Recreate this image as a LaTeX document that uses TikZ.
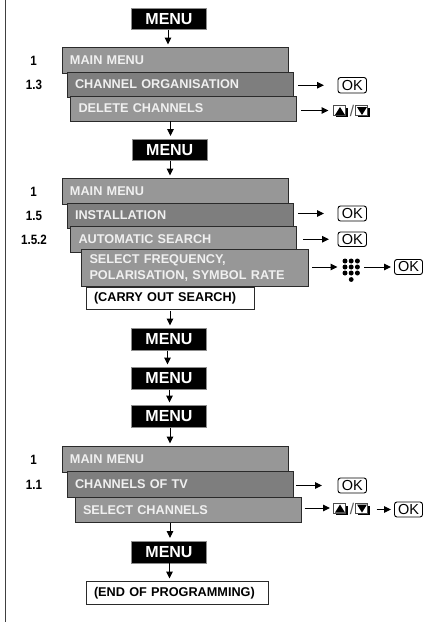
\documentclass[tikz,border=0pt]{standalone}
\usepackage{fontspec}
\setmainfont{Liberation Sans}
\newfontfamily\narrowfont[FakeStretch=0.86]{Liberation Sans}
\usetikzlibrary{arrows.meta,calc}
\definecolor{mgray}{HTML}{979797}
\definecolor{dgray}{HTML}{7E7E7E}
\definecolor{btxt}{HTML}{F0F0F0}
\definecolor{edge}{HTML}{2A2A2A}
\tikzset{
  every node/.style={inner sep=0pt,outer sep=0pt},
  lightbox/.style={draw=edge,line width=0.9pt,fill=mgray,text=btxt,font=\fontsize{12.7}{16}\selectfont\bfseries,align=left},
  darkbox/.style={lightbox,fill=dgray},
  whitebox/.style={lightbox,fill=white,text=black},
  menubox/.style={draw=black!45,line width=0.8pt,fill=black,text=white,font=\fontsize{16}{18}\selectfont\bfseries,align=center},
  okbox/.style={draw=black,line width=0.9pt,rounded corners=2.5pt,fill=white,font=\fontsize{14.5}{16}\selectfont,align=center},
  numlabel/.style={font=\narrowfont\fontsize{13.5}{14}\selectfont\bfseries,text=black},
  varrow/.style={line width=1pt,-{Triangle[length=7pt,width=6.5pt]}},
  harrow/.style={line width=1pt,-{Triangle[length=7pt,width=6.5pt]}},
  slash/.style={font=\fontsize{15.5}{16}\selectfont,text=black!65},
}
% name, x1, y1, x2, y2, style, text
\newcommand{\tbox}[7]{%
  \pgfmathsetmacro{\bw}{#4-#2}\pgfmathsetmacro{\bh}{#5-#3}\pgfmathsetmacro{\tw}{#4-#2-16}%
  \node[#6,minimum width=\bw pt,minimum height=\bh pt,text width=\tw pt,inner xsep=8pt] (#1) at ({(#2+#4)/2},{(#3+#5)/2}) {#7};}
\newcommand{\cbox}[7]{%
  \pgfmathsetmacro{\bw}{#4-#2}\pgfmathsetmacro{\bh}{#5-#3}%
  \node[#6,minimum width=\bw pt,minimum height=\bh pt] (#1) at ({(#2+#4)/2},{(#3+#5)/2}) {#7};}
% key icon: name, x1, y1, direction (1 up, -1 down)
\newcommand{\keyicon}[4]{%
  \fill[black] (#2+2.5,#3+2.5) rectangle (#2+14,#3+11.5);
  \node[draw=black!70,line width=0.5pt,fill=white,minimum width=12pt,minimum height=10pt] (#1) at (#2+6,#3+5) {};
  \fill[black] (#2+6.5,{#3+5.5-4*#4}) -- (#2+1.5,{#3+5.5+4*#4}) -- (#2+11.5,{#3+5.5+4*#4}) -- cycle;}
\begin{document}
\begin{tikzpicture}[x=1pt,y=-1pt]
\useasboundingbox (0,0) rectangle (428,625);
\coordinate (railtop) at (5.5,0);
\coordinate (railend) at (5.5,622);
\draw[line width=1pt,black!75] (railtop) -- (railend);
% columns for the vertical arrows
\coordinate (xa) at (168,0);
\coordinate (xb) at (170.5,0);
\coordinate (xc) at (170,0);
\coordinate (xd) at (167.5,0);
\coordinate (xe) at (169.5,0);

% block 1
\cbox{m1}{131.5}{8}{206.5}{29.5}{menubox}{MENU}
\tbox{a1}{62}{47.5}{288}{73}{lightbox}{MAIN MENU}
\tbox{a2}{67}{72}{293}{97}{darkbox}{CHANNEL ORGANISATION}
\tbox{a3}{70.5}{96}{296.5}{121}{lightbox}{DELETE CHANNELS}
\node[numlabel] (l1) at (33.5,60.5) {1};
\node[numlabel] (l2) at (34,84.5) {1.3};
\cbox{oka}{338}{77.5}{366.5}{93}{okbox}{OK}
\keyicon{ua}{333.5}{105.5}{1}
\node[slash] (sa) at (352,111) {/};
\keyicon{da}{355.5}{105.5}{-1}

% block 2
\cbox{m2}{132.5}{139}{207}{160.5}{menubox}{MENU}
\tbox{b1}{62}{178.5}{288}{204}{lightbox}{MAIN MENU}
\tbox{b2}{67}{203}{293}{228}{darkbox}{INSTALLATION}
\tbox{b3}{70.5}{226.5}{296.5}{252}{lightbox}{AUTOMATIC SEARCH}
\tbox{b4}{81.5}{249}{308}{286.5}{lightbox}{SELECT FREQUENCY,\\POLARISATION, SYMBOL RATE}
\tbox{b5}{86}{287}{254.5}{309}{whitebox}{(CARRY OUT SEARCH)}
\node[numlabel] (l3) at (33.5,191.5) {1};
\node[numlabel] (l4) at (34,216) {1.5};
\node[numlabel] (l5) at (34,240) {1.5.2};
\cbox{okb}{338}{206}{366.5}{221}{okbox}{OK}
\cbox{okc}{338}{232}{366.5}{246.5}{okbox}{OK}
\cbox{okd}{394.5}{259.5}{422.5}{274.5}{okbox}{OK}
\coordinate (kp) at (351.2,267);
\foreach \yy in {261,267,273}
  \foreach \xx in {345,351.2,357.4}
    \fill[black] (\xx,\yy) circle (2.5pt);
\fill[black] (351.2,279.5) circle (2.4pt);

% menus
\cbox{m3}{131.5}{328.5}{206.5}{350.5}{menubox}{MENU}
\cbox{m4}{131.5}{367.5}{206.5}{389.5}{menubox}{MENU}
\cbox{m5}{131.5}{405.5}{206.5}{427.5}{menubox}{MENU}

% block 3
\tbox{c1}{62}{446.5}{288}{472}{lightbox}{MAIN MENU}
\tbox{c2}{67}{471.5}{293}{497}{darkbox}{CHANNELS OF TV}
\tbox{c3}{75}{497}{301.5}{522.5}{lightbox}{SELECT CHANNELS}
\node[numlabel] (l6) at (33.5,460) {1};
\node[numlabel] (l7) at (34,485) {1.1};
\cbox{oke}{338}{478}{366.5}{493}{okbox}{OK}
\keyicon{ub}{333.5}{503}{1}
\node[slash] (sb) at (352,509) {/};
\keyicon{db}{355.5}{503}{-1}
\cbox{okf}{394.5}{502}{422.5}{517}{okbox}{OK}

\cbox{m6}{131.5}{541}{206.5}{563}{menubox}{MENU}
\tbox{c5}{86}{581.5}{268}{604.5}{whitebox}{(END OF PROGRAMMING)}

% vertical arrows
\draw[varrow,shorten >=3pt] (m1.south -| xa) -- (a1.north -| xa);
\draw[varrow,shorten >=3pt] (a3.south -| xb) -- (m2.north -| xb);
\draw[varrow,shorten >=3pt] (m2.south -| xc) -- (b1.north -| xc);
\draw[varrow,shorten <=2pt,shorten >=3pt] (b5.south -| xc) -- (m3.north -| xc);
\draw[varrow,shorten >=3pt] (m3.south -| xd) -- (m4.north -| xd);
\draw[varrow,shorten >=3pt] (m4.south -| xe) -- (m5.north -| xe);
\draw[varrow,shorten >=3pt] (m5.south -| xc) -- (c1.north -| xc);
\draw[varrow,shorten >=3pt] (c3.south -| xc) -- (m6.north -| xc);
\draw[varrow,shorten >=3pt] (m6.south -| xe) -- (c5.north -| xe);

% horizontal arrows
\draw[harrow,shorten <=5pt,shorten >=14pt] (a2.east |- oka.west) -- (oka.west);
\draw[harrow,shorten <=4.5pt,shorten >=5pt] (a3.east |- ua.west) -- (ua.west);
\draw[harrow,shorten <=5pt,shorten >=14pt] (b2.east |- okb.west) -- (okb.west);
\draw[harrow,shorten <=6.5pt,shorten >=9pt] (b3.east |- okc.west) -- (okc.west);
\draw[harrow,shorten <=4pt,shorten >=5.5pt] (b4.east |- kp) -- ($(kp)+(-8.2,0)$);
\draw[harrow,shorten <=13pt,shorten >=3.5pt] (kp) -- (okd.west |- kp);
\draw[harrow,shorten <=3pt,shorten >=16pt] (c2.east |- oke.west) -- (oke.west);
\draw[harrow,shorten <=3pt,shorten >=3.5pt] (c3.east |- ub.west) -- (ub.west);
\draw[harrow,shorten <=9pt,shorten >=3.5pt] (db.east |- okf.west) -- (okf.west);
\end{tikzpicture}
\end{document}
